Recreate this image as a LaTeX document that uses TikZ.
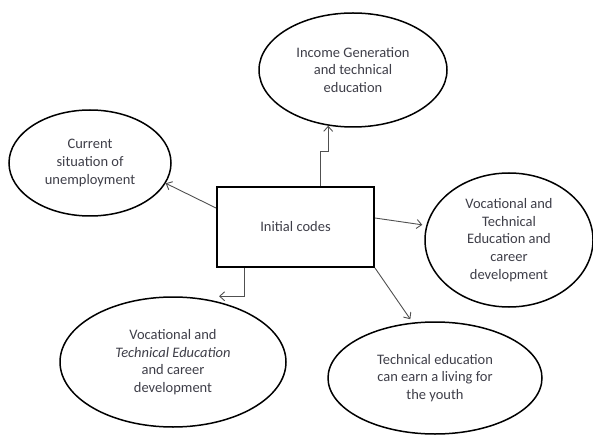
\documentclass[tikz,border=0pt]{standalone}
\usepackage{fontspec}
\setmainfont{Carlito}
\usetikzlibrary{arrows.meta,calc,shapes.geometric}
\definecolor{textgrey}{RGB}{62,62,72}
\definecolor{linkgrey}{RGB}{80,80,80}

\begin{document}
\begin{tikzpicture}[x=1pt,y=-1pt,
  every node/.style={font=\fontsize{14.5}{17.6}\selectfont,align=center,text=textgrey},
  theme/.style={draw=black,line width=1.5pt,ellipse,inner sep=0pt},
  codebox/.style={draw=black,line width=2pt,minimum width=157pt,minimum height=80pt,inner sep=0pt},
  link/.style={draw=linkgrey,line width=0.9pt,-{Straight Barb[length=5pt,width=9pt]}}]
\useasboundingbox (0,0) rectangle (593,435);
\node[codebox] (codes) at (295.5,227) {Initial codes};
\node[theme,minimum width=188pt,minimum height=114pt] (income) at (353,70) {Income Generation\\and technical\\education};
\node[theme,minimum width=162pt,minimum height=106pt] (unemp) at (90,163) {Current\\situation of\\unemployment};
\node[theme,minimum width=168pt,minimum height=134pt] (vocright) at (509,240) {Vocational and\\Technical\\Education and\\career\\development};
\node[theme,minimum width=226pt,minimum height=130pt] (vocleft) at (173,362) {Vocational and\\\textit{Technical Education}\\and career\\development};
\node[theme,minimum width=214pt,minimum height=112pt] (living) at (435,378) {Technical education\\can earn a living for\\the youth};
\draw[link] ($(codes.north)+(25,0)$) -- ++(0,-35) -| (income.-114);
\draw[link] ($(codes.west)+(0,-19)$) -- (unemp.-15);
\draw[link,shorten >=4pt] ($(codes.east)+(0,-9)$) -- (vocright.170);
\draw[link,shorten >=4pt] (codes.south east) -- (living.112);
\draw[link] ($(codes.south)+(-51,0)$) |- ($(vocleft.north)+(46,0)$);
\end{tikzpicture}
\end{document}
